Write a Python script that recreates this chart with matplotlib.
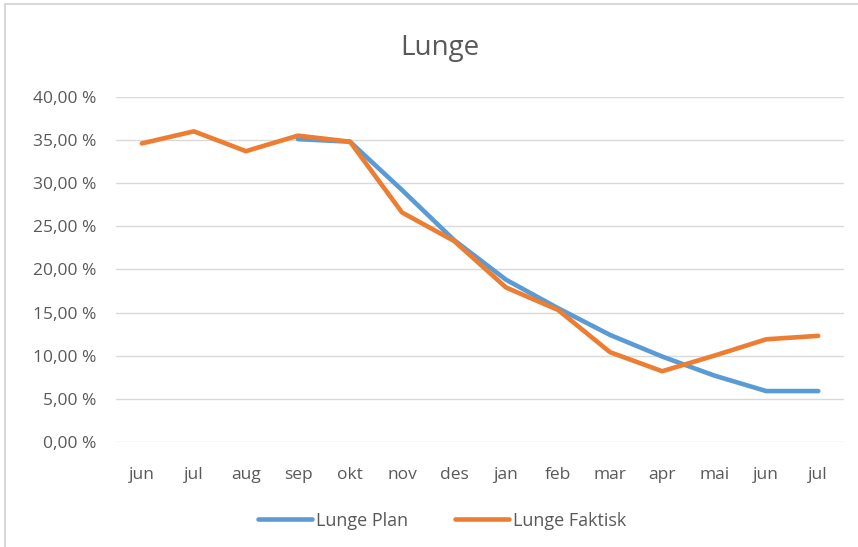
import matplotlib.pyplot as plt
import matplotlib.ticker as mticker
from matplotlib.patches import Rectangle
import numpy as np

maaneder = ['jun', 'jul', 'aug', 'sep', 'okt', 'nov', 'des', 'jan', 'feb', 'mar', 'apr', 'mai', 'jun', 'jul']
plan = [np.nan, np.nan, np.nan, 35.1, 34.8, 29.2, 23.4, 18.8, 15.5, 12.4, 9.9, 7.7, 5.9, 5.9]
faktisk = [34.6, 36.0, 33.7, 35.5, 34.8, 26.6, 23.3, 17.9, 15.3, 10.4, 8.2, 10.0, 11.9, 12.3]

plt.rcParams['font.family'] = ['Open Sans', 'DejaVu Sans']
grå = '#595959'

fig = plt.figure(figsize=(8.58, 5.47), dpi=100)
ax = fig.add_axes([0.135, 0.192, 0.849, 0.631])

x = np.arange(len(maaneder))
ax.plot(x, np.array(plan) / 100, color='#5B9BD5', lw=3.3, solid_capstyle='round', label='Lunge Plan')
ax.plot(x, np.array(faktisk) / 100, color='#ED7D31', lw=3.3, solid_capstyle='round', label='Lunge Faktisk')

ax.set_xlim(-0.5, len(maaneder) - 0.5)
ax.set_ylim(0, 0.40)
ax.set_xticks(x)
ax.set_xticklabels(maaneder)
ax.set_yticks(np.arange(0, 0.41, 0.05))
ax.yaxis.set_major_formatter(mticker.FuncFormatter(lambda v, p: f'{v*100:.2f} %'.replace('.', ',')))
ax.tick_params(axis='both', length=0, labelsize=12.5, colors=grå)
ax.tick_params(axis='x', pad=18)
ax.tick_params(axis='y', pad=14)
ax.grid(axis='y', color='#D9D9D9', lw=1)
ax.set_axisbelow(True)
for s in ax.spines.values():
    s.set_visible(False)

fig.text(0.513, 0.913, 'Lunge', ha='center', va='center', fontsize=20, color=grå)
fig.legend(loc='center', bbox_to_anchor=(0.515, 0.048), ncol=2, frameon=False,
           fontsize=13, labelcolor=grå, handlelength=3.0, handletextpad=0.2, columnspacing=2.6)

fig.add_artist(Rectangle((0.006, -0.01), 1.0, 1.003, transform=fig.transFigure,
                         fill=False, edgecolor='#D9D9D9', lw=1.5))

fig.savefig('out.png', dpi=100)
